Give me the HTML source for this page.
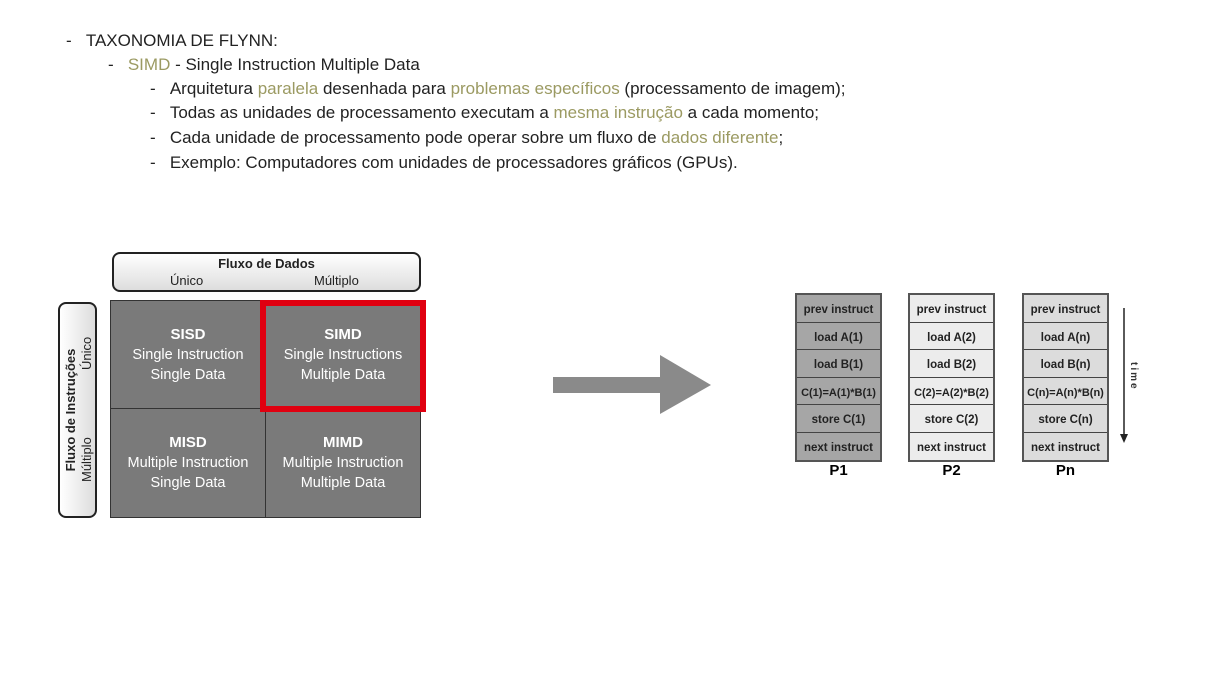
<!DOCTYPE html><html><head><style>
body{margin:0;width:1222px;height:686px;background:#fff;font-family:"Liberation Sans",sans-serif;position:relative;overflow:hidden}
.t{position:absolute;font-size:17px;color:#222;white-space:nowrap}
.o{color:#9b9a62}
.a{position:absolute}
.cell{position:absolute;background:#7a7a7a;color:#fff;text-align:center;font-size:14.5px;line-height:20px;box-sizing:border-box;border:1px solid #333;padding-top:24px}
.cell b{font-size:15px}
.col{position:absolute;top:293px;width:87px;border:2px solid #555;box-sizing:border-box}
.col div{height:27.5px;line-height:30px;text-align:center;font-size:11.5px;font-weight:bold;color:#222;border-bottom:1px solid #444;box-sizing:border-box}
.col div:last-child{border-bottom:none}
.pl{position:absolute;top:462px;font-weight:bold;font-size:15px;width:87px;text-align:center}
</style></head><body>
<div class="t" style="left:66px;top:31px">-&nbsp;&nbsp;&nbsp;TAXONOMIA DE FLYNN:</div>
<div class="t" style="left:108px;top:55px">-&nbsp;&nbsp;&nbsp;<span class="o">SIMD</span> - Single Instruction Multiple Data</div>
<div class="t" style="left:150px;top:79px">-&nbsp;&nbsp;&nbsp;Arquitetura <span class="o">paralela</span> desenhada para <span class="o">problemas específicos</span> (processamento de imagem);</div>
<div class="t" style="left:150px;top:103px">-&nbsp;&nbsp;&nbsp;Todas as unidades de processamento executam a <span class="o">mesma instrução</span> a cada momento;</div>
<div class="t" style="left:150px;top:128px">-&nbsp;&nbsp;&nbsp;Cada unidade de processamento pode operar sobre um fluxo de <span class="o">dados diferente</span>;</div>
<div class="t" style="left:150px;top:153px">-&nbsp;&nbsp;&nbsp;Exemplo: Computadores com unidades de processadores gráficos (GPUs).</div>

<div class="a" style="left:112px;top:252px;width:309px;height:40px;border:2px solid #222;border-radius:8px;box-sizing:border-box;background:linear-gradient(#fff,#ddd);font-size:13px;color:#222">
<div style="text-align:center;font-weight:bold;margin-top:2px">Fluxo de Dados</div>
<div style="position:absolute;left:56px;top:19px">Único</div><div style="position:absolute;left:200px;top:19px">Múltiplo</div></div>
<div class="a" style="left:58px;top:302px;width:39px;height:216px;border:2px solid #222;border-radius:8px;box-sizing:border-box;background:linear-gradient(90deg,#fff,#ddd)">
<div style="position:absolute;left:20px;top:106px;transform:translate(-50%,-50%) rotate(-90deg);width:210px;height:34px;font-size:13px;color:#222">
<div style="text-align:center;font-weight:bold;line-height:16px">Fluxo de Instruções</div>
<div style="position:absolute;left:33px;top:16px;line-height:16px">Múltiplo</div><div style="position:absolute;left:145px;top:16px;line-height:16px">Único</div></div></div>

<div class="cell" style="left:110px;top:300px;width:156px;height:109px"><b>SISD</b><br>Single Instruction<br>Single Data</div>
<div class="cell" style="left:265px;top:300px;width:156px;height:109px"><b>SIMD</b><br>Single Instructions<br>Multiple Data</div>
<div class="cell" style="left:110px;top:408px;width:156px;height:110px"><b>MISD</b><br>Multiple Instruction<br>Single Data</div>
<div class="cell" style="left:265px;top:408px;width:156px;height:110px"><b>MIMD</b><br>Multiple Instruction<br>Multiple Data</div>
<div class="a" style="left:260px;top:300px;width:166px;height:112px;border:6px solid #e00010;box-sizing:border-box"></div>

<svg class="a" style="left:0;top:0" width="1222" height="686">
<rect x="553" y="377" width="108" height="16" fill="#8a8a8a"/>
<polygon points="660,355 711,385 660,414" fill="#8a8a8a"/>
<line x1="1124" y1="308" x2="1124" y2="436" stroke="#222" stroke-width="1.5"/>
<polygon points="1120,434 1128,434 1124,443" fill="#222"/>
<text x="1131" y="362" font-size="10" font-weight="bold" transform="rotate(90 1131 362)" font-family="Liberation Sans" fill="#333" letter-spacing="2">time</text>
</svg>

<div class="col" style="left:795px;background:#a6a6a6"><div>prev instruct</div><div>load A(1)</div><div>load B(1)</div><div style="font-size:11px">C(1)=A(1)*B(1)</div><div>store C(1)</div><div>next instruct</div></div>
<div class="col" style="left:908px;background:#ececec"><div>prev instruct</div><div>load A(2)</div><div>load B(2)</div><div style="font-size:11px">C(2)=A(2)*B(2)</div><div>store C(2)</div><div>next instruct</div></div>
<div class="col" style="left:1022px;background:#dcdcdc"><div>prev instruct</div><div>load A(n)</div><div>load B(n)</div><div style="font-size:11px">C(n)=A(n)*B(n)</div><div>store C(n)</div><div>next instruct</div></div>
<div class="pl" style="left:795px">P1</div><div class="pl" style="left:908px">P2</div><div class="pl" style="left:1022px">Pn</div>
</body></html>
